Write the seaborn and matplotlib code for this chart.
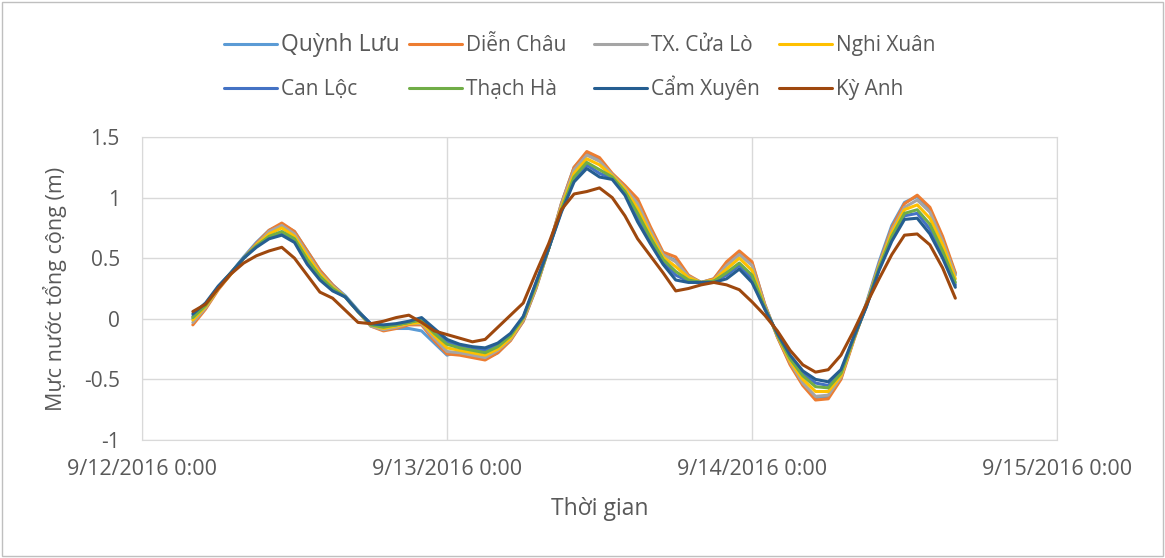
import numpy as np
import pandas as pd
import matplotlib.pyplot as plt
import matplotlib.dates as mdates
from matplotlib.lines import Line2D
from matplotlib.patches import Rectangle
import seaborn as sns

# Hourly total water level (m), 9/12/2016 04:00 -> 9/14/2016 16:00
times = pd.date_range("2016-09-12 04:00", "2016-09-14 16:00", freq="h")

stations = ["Quỳnh Lưu", "Diễn Châu", "TX. Cửa Lò", "Nghi Xuân",
            "Can Lộc", "Thạch Hà", "Cẩm Xuyên", "Kỳ Anh"]
colors = ["#5B9BD5", "#ED7D31", "#A5A5A5", "#FFC000",
          "#4472C4", "#70AD47", "#255E91", "#9E480E"]

quynh_luu = [0.00, 0.10, 0.26, 0.38, 0.51, 0.63, 0.73, 0.78, 0.72, 0.56,
             0.40, 0.28, 0.19, 0.07, -0.05, -0.08, -0.08, -0.08, -0.10, -0.20,
             -0.30, -0.27, -0.30, -0.33, -0.28, -0.17, -0.02, 0.25, 0.58, 0.95,
             1.25, 1.36, 1.31, 1.19, 1.09, 0.96, 0.74, 0.53, 0.48, 0.35,
             0.30, 0.33, 0.46, 0.54, 0.46, 0.12, -0.15, -0.37, -0.54, -0.65,
             -0.64, -0.49, -0.17, 0.13, 0.47, 0.77, 0.96, 1.01, 0.90, 0.66,
             0.37]
dien_chau = [-0.05, 0.08, 0.24, 0.37, 0.50, 0.62, 0.73, 0.79, 0.72, 0.56,
             0.40, 0.28, 0.18, 0.06, -0.06, -0.10, -0.08, -0.05, -0.05, -0.18,
             -0.29, -0.30, -0.32, -0.34, -0.28, -0.18, -0.02, 0.25, 0.58, 0.95,
             1.25, 1.38, 1.33, 1.20, 1.10, 0.99, 0.76, 0.55, 0.51, 0.36,
             0.30, 0.33, 0.47, 0.56, 0.47, 0.12, -0.15, -0.38, -0.55, -0.67,
             -0.66, -0.50, -0.18, 0.12, 0.45, 0.75, 0.95, 1.02, 0.92, 0.68,
             0.38]
cua_lo = [-0.03, 0.09, 0.25, 0.37, 0.50, 0.61, 0.72, 0.77, 0.70, 0.54,
          0.38, 0.27, 0.18, 0.06, -0.06, -0.09, -0.07, -0.04, -0.04, -0.16,
          -0.27, -0.28, -0.30, -0.32, -0.26, -0.17, -0.01, 0.26, 0.58, 0.94,
          1.23, 1.35, 1.30, 1.19, 1.08, 0.95, 0.73, 0.53, 0.47, 0.35,
          0.30, 0.32, 0.44, 0.53, 0.44, 0.11, -0.14, -0.36, -0.53, -0.64,
          -0.63, -0.48, -0.17, 0.12, 0.44, 0.73, 0.92, 0.98, 0.88, 0.64,
          0.36]
nghi_xuan = [-0.01, 0.10, 0.25, 0.37, 0.50, 0.61, 0.70, 0.75, 0.68, 0.52,
             0.37, 0.26, 0.18, 0.06, -0.05, -0.08, -0.06, -0.04, -0.03, -0.14,
             -0.24, -0.26, -0.28, -0.30, -0.25, -0.16, 0.00, 0.27, 0.58, 0.92,
             1.20, 1.32, 1.27, 1.18, 1.07, 0.91, 0.70, 0.51, 0.43, 0.34,
             0.30, 0.32, 0.41, 0.50, 0.40, 0.10, -0.14, -0.35, -0.50, -0.60,
             -0.60, -0.47, -0.17, 0.11, 0.43, 0.71, 0.90, 0.94, 0.83, 0.61,
             0.33]
can_loc = [0.02, 0.12, 0.26, 0.38, 0.50, 0.60, 0.67, 0.71, 0.65, 0.47,
           0.34, 0.24, 0.18, 0.06, -0.04, -0.06, -0.05, -0.03, 0.00, -0.10,
           -0.19, -0.23, -0.25, -0.26, -0.22, -0.13, 0.01, 0.29, 0.58, 0.89,
           1.15, 1.27, 1.20, 1.16, 1.04, 0.84, 0.65, 0.47, 0.36, 0.31,
           0.30, 0.31, 0.36, 0.44, 0.33, 0.09, -0.13, -0.32, -0.45, -0.53,
           -0.55, -0.44, -0.16, 0.10, 0.41, 0.66, 0.85, 0.87, 0.74, 0.54,
           0.28]
thach_ha = [0.01, 0.11, 0.26, 0.38, 0.50, 0.60, 0.68, 0.72, 0.66, 0.49,
            0.35, 0.25, 0.18, 0.06, -0.05, -0.07, -0.05, -0.03, -0.01, -0.12,
            -0.21, -0.24, -0.26, -0.28, -0.23, -0.14, 0.01, 0.28, 0.58, 0.90,
            1.17, 1.29, 1.23, 1.17, 1.05, 0.87, 0.67, 0.49, 0.39, 0.32,
            0.30, 0.31, 0.38, 0.46, 0.36, 0.09, -0.13, -0.33, -0.47, -0.56,
            -0.57, -0.45, -0.16, 0.11, 0.42, 0.68, 0.87, 0.90, 0.78, 0.56,
            0.30]
cam_xuyen = [0.04, 0.13, 0.27, 0.38, 0.50, 0.59, 0.66, 0.69, 0.63, 0.45,
             0.32, 0.23, 0.18, 0.06, -0.04, -0.05, -0.04, -0.02, 0.01, -0.08,
             -0.17, -0.21, -0.23, -0.24, -0.20, -0.12, 0.02, 0.30, 0.58, 0.88,
             1.13, 1.24, 1.17, 1.15, 1.02, 0.80, 0.62, 0.45, 0.32, 0.30,
             0.30, 0.30, 0.33, 0.41, 0.30, 0.08, -0.12, -0.30, -0.43, -0.50,
             -0.52, -0.42, -0.15, 0.10, 0.40, 0.64, 0.82, 0.83, 0.70, 0.50,
             0.26]
ky_anh = [0.06, 0.12, 0.25, 0.37, 0.46, 0.52, 0.56, 0.59, 0.50, 0.36,
          0.22, 0.17, 0.07, -0.03, -0.04, -0.02, 0.01, 0.03, -0.03, -0.10,
          -0.13, -0.16, -0.19, -0.17, -0.07, 0.03, 0.13, 0.38, 0.62, 0.90,
          1.03, 1.05, 1.08, 1.00, 0.85, 0.66, 0.52, 0.38, 0.23, 0.25,
          0.28, 0.30, 0.28, 0.24, 0.14, 0.03, -0.10, -0.26, -0.38, -0.44,
          -0.42, -0.30, -0.10, 0.12, 0.33, 0.53, 0.69, 0.70, 0.61, 0.42,
          0.17]

series = [quynh_luu, dien_chau, cua_lo, nghi_xuan, can_loc, thach_ha, cam_xuyen, ky_anh]
df = pd.concat([pd.DataFrame({"time": times, "level": v, "station": s})
                for s, v in zip(stations, series)], ignore_index=True)

sns.set_style("white")
plt.rcParams["font.family"] = ["Open Sans", "DejaVu Sans"]
txt = "#595959"
grid = "#D9D9D9"
W, H = 1165, 558

fig = plt.figure(figsize=(W / 100, H / 100), dpi=100)
ax = fig.add_axes([142 / W, 1 - 440 / H, 915 / W, 303 / H])

sns.lineplot(data=df, x="time", y="level", hue="station", hue_order=stations,
             palette=dict(zip(stations, colors)), linewidth=2.2, legend=False, ax=ax)
for ln in ax.lines:
    ln.set_solid_joinstyle("round")
    ln.set_solid_capstyle("round")

ax.set_xlim(pd.Timestamp("2016-09-12"), pd.Timestamp("2016-09-15"))
ax.set_ylim(-1, 1.5)
ax.set_xticks(pd.date_range("2016-09-12", "2016-09-15", freq="D"))
ax.xaxis.set_major_formatter(plt.FuncFormatter(
    lambda v, p: "{0.month}/{0.day}/{0.year} 0:00".format(mdates.num2date(v))))
ax.set_yticks([-1, -0.5, 0, 0.5, 1, 1.5])
ax.set_yticklabels(["-1", "-0.5", "0", "0.5", "1", "1.5"])
ax.grid(True, color=grid, linewidth=1)
for sp in ax.spines.values():
    sp.set_color(grid)
ax.tick_params(length=0, colors=txt)
ax.tick_params(axis="y", pad=16, labelsize=15)
ax.tick_params(axis="x", pad=14, labelsize=15.5)
ax.set_xlabel("Thời gian", color=txt, fontsize=16.5, labelpad=12)
ax.set_ylabel("Mực nước tổng cộng (m)", color=txt, fontsize=15.5, labelpad=12)

# legend: Excel-style fixed grid of 2 rows x 4 columns
for i, (name, col) in enumerate(zip(stations, colors)):
    x0 = 224 + 185 * (i % 4)
    y0 = 44 if i < 4 else 88
    fig.add_artist(Line2D([x0 / W, (x0 + 53) / W], [1 - y0 / H] * 2,
                          color=col, linewidth=2.2, transform=fig.transFigure))
    fig.text((x0 + 57) / W, 1 - (y0 + 7) / H, name, color=txt, va="baseline",
             ha="left", fontsize=16.5 if i == 0 else 15)

fig.patches.append(Rectangle((0.002, 0.003), 0.996, 0.994, transform=fig.transFigure,
                             fill=False, edgecolor="#BFBFBF", linewidth=1))

fig.savefig("out.png", dpi=100)
